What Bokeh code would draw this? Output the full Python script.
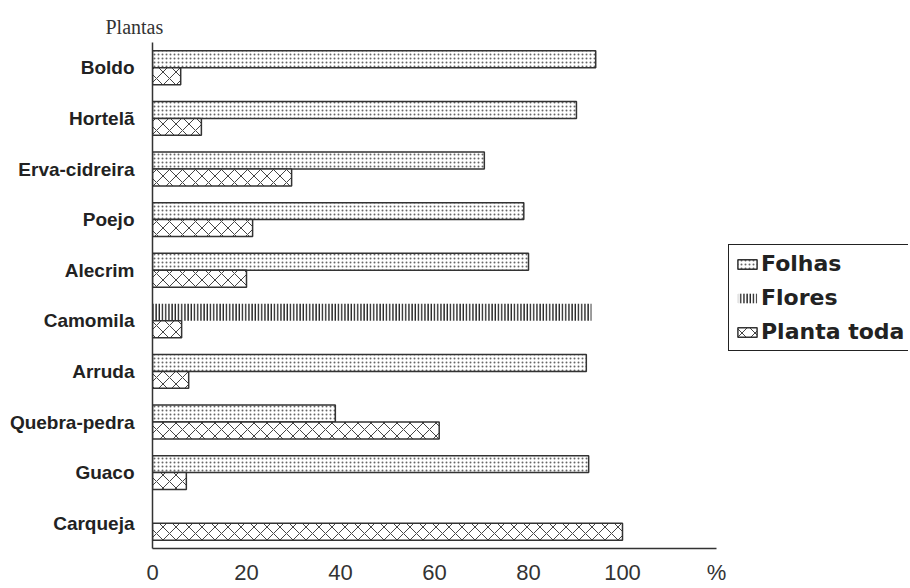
from bokeh.plotting import figure
from bokeh.models import ColumnDataSource, Legend, LegendItem, FixedTicker
from bokeh.transform import dodge
from bokeh.embed import file_html
from bokeh.resources import INLINE

plants = ["Boldo", "Hortelã", "Erva-cidreira", "Poejo", "Alecrim",
          "Camomila", "Arruda", "Quebra-pedra", "Guaco", "Carqueja"]
folhas = [94.3, 90.2, 70.6, 79.0, 80.0, 0, 92.3, 38.9, 92.8, 0]
flores = [0, 0, 0, 0, 0, 93.4, 0, 0, 0, 0]
planta_toda = [6.0, 10.4, 29.6, 21.3, 20.0, 6.2, 7.7, 61.0, 7.2, 100.0]
x_ticks = [0, 20, 40, 60, 80, 100, 120]
x_unit_label = "%"

def src(vals):
    keep = [(c, v) for c, v in zip(plants, vals) if v > 0]
    return ColumnDataSource(dict(plant=[c for c, _ in keep], val=[v for _, v in keep]))

# frame extends to the right edge so the legend can sit beside the axis; axis line is bounded
p = figure(y_range=list(reversed(plants)), x_range=(0, 160.85),
           frame_width=756, frame_height=506,
           min_border_left=152, min_border_top=42, min_border_bottom=0, min_border_right=0,
           output_backend="svg", toolbar_location=None,
           title="Plantas")

p.title.text_font = "Liberation Serif"
p.title.text_font_size = "20px"
p.title.text_font_style = "normal"
p.title.text_color = "#333333"
p.title.align = "left"
p.title.offset = -47

bh = 0.335
r_fol = p.hbar(y=dodge("plant", 0.1675, range=p.y_range), right="val", left=0, height=bh,
               source=src(folhas), fill_color="white", line_color="#333333", line_width=1.5,
               hatch_pattern="dot", hatch_color="#666666", hatch_scale=4, hatch_weight=1)
r_flo = p.hbar(y=dodge("plant", 0.1675, range=p.y_range), right="val", left=0, height=bh,
               source=src(flores), fill_color="white", line_color=None,
               hatch_pattern="vertical_line", hatch_color="#222222", hatch_scale=3.2, hatch_weight=1.5)
r_pt = p.hbar(y=dodge("plant", -0.1675, range=p.y_range), right="val", left=0, height=bh,
              source=src(planta_toda), fill_color="white", line_color="#333333", line_width=1.5,
              hatch_pattern="diagonal_cross", hatch_color="#444444", hatch_scale=13, hatch_weight=1)

p.xgrid.visible = False
p.ygrid.visible = False
p.outline_line_color = None

p.xaxis.ticker = FixedTicker(ticks=x_ticks)
p.xaxis.bounds = (x_ticks[0], x_ticks[-1])
p.xaxis.major_label_overrides = {x_ticks[-1]: x_unit_label}
p.xaxis.major_tick_line_color = None
p.xaxis.minor_tick_line_color = None
p.xaxis.axis_line_color = "#333333"
p.xaxis.axis_line_width = 1.5
p.xaxis.major_label_text_font = "Liberation Sans"
p.xaxis.major_label_text_font_size = "22px"
p.xaxis.major_label_text_color = "#333333"
p.xaxis.major_label_standoff = 5

p.yaxis.major_tick_line_color = None
p.yaxis.minor_tick_line_color = None
p.yaxis.axis_line_color = "#333333"
p.yaxis.axis_line_width = 1.5
p.yaxis.major_label_text_font = "Liberation Sans"
p.yaxis.major_label_text_font_style = "bold"
p.yaxis.major_label_text_font_size = "19px"
p.yaxis.major_label_text_color = "#222222"
p.yaxis.major_label_standoff = 12

legend = Legend(items=[LegendItem(label="Folhas", renderers=[r_fol]),
                       LegendItem(label="Flores", renderers=[r_flo]),
                       LegendItem(label="Planta toda", renderers=[r_pt])],
                location=(576, 197), border_line_color="#222222", border_line_width=1.5,
                border_line_alpha=1.0, background_fill_alpha=1.0,
                label_text_font="DejaVu Sans", label_text_font_style="bold",
                label_text_font_size="22px", label_text_color="#222222",
                glyph_width=24, glyph_height=12, label_standoff=2, spacing=9,
                padding=6, margin=0)
p.add_layout(legend)

open("out.html", "w").write(file_html(p, INLINE))
